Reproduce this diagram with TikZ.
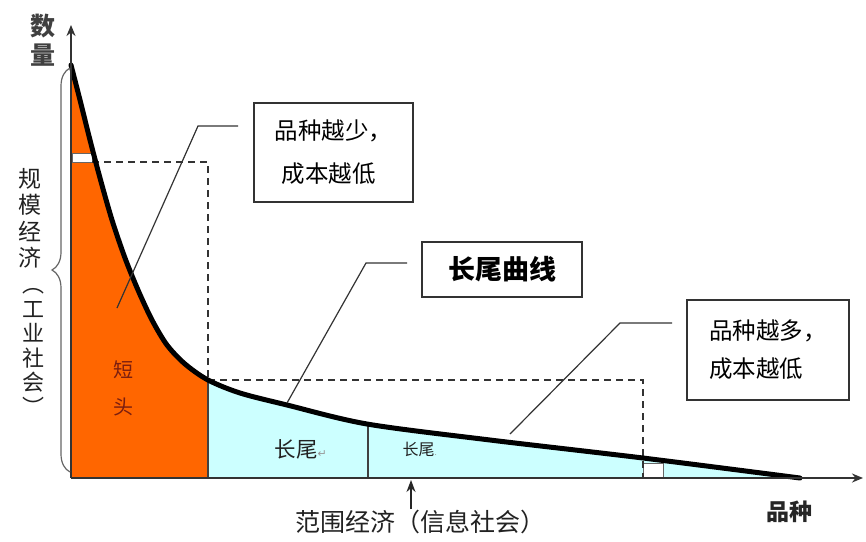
\documentclass[tikz,border=0pt]{standalone}
\usepackage{fontspec}
\setmainfont{Noto Sans CJK SC}
\newfontfamily\symfont{DejaVu Sans}
\usetikzlibrary{arrows.meta,decorations.pathreplacing}
\definecolor{headorange}{HTML}{FF6600}
\definecolor{tailblue}{HTML}{CCFFFF}
\definecolor{axisgray}{HTML}{333333}
\definecolor{headred}{HTML}{7A1E10}
\definecolor{textgray}{HTML}{222222}
\tikzset{
  axisline/.style={draw=axisgray, line width=2pt, -{Stealth[length=11pt,width=9pt]}},
  dashline/.style={draw=black!80, line width=1.5pt, dash pattern=on 7pt off 5pt},
  leader/.style={draw=black!80, line width=1.2pt},
  callout/.style={draw=black!80, line width=1.3pt, fill=white, inner sep=0pt},
  divider/.style={draw=black!75, line width=1.2pt},
  smallbox/.style={draw=black!60, line width=0.8pt, fill=white},
  bracestyle/.style={draw=black!60, line width=1.2pt, decorate, decoration={brace, amplitude=18pt}},
}
\begin{document}
\begin{tikzpicture}[x=1pt,y=-1pt]
\useasboundingbox (0,0) rectangle (866,541);
\fill[white] (0,0) rectangle (866,541);

% filled regions under the curve
\begin{scope}
\clip (72,478) -- plot[smooth,tension=0.5] coordinates {(71,65) (80,100) (90,140) (100,178) (112,220) (125,258) (138,290) (152,320) (167,345) (185,364) (208,380) (240,393) (287,405) (367,424) (490,440) (643,458) (800,478)} -- (800,478) -- cycle;
\fill[headorange] (60,40) rectangle (208,478);
\fill[tailblue] (208,40) rectangle (810,478);
\end{scope}

% dividers
\draw[divider] (208,380) -- (208,478);
\draw[divider] (368,424) -- (368,478);

% small white boxes
\draw[smallbox] (72,153) rectangle (92,162);
\draw[smallbox] (643,463) rectangle (663,478);

% dashed lines
\draw[dashline] (92,162) -- (208,162) -- (208,380);
\draw[dashline] (208,380) -- (643,380) -- (643,478);

% long tail curve
\draw[line width=5pt, black, line join=round, line cap=round] plot[smooth,tension=0.5] coordinates {(71,65) (80,100) (90,140) (100,178) (112,220) (125,258) (138,290) (152,320) (167,345) (185,364) (208,380) (240,393) (287,405) (367,424) (490,440) (643,458) (800,478)};

% axes
\coordinate (origin) at (71,478);
\coordinate (xend) at (863,478);
\coordinate (yend) at (71,25);
\draw[axisline] (origin) -- (xend);
\draw[axisline] (origin) -- (yend);

% brace
\coordinate (bracebot) at (70,472);
\coordinate (bracetop) at (70,68);
\draw[bracestyle] (bracebot) -- (bracetop);

% callout boxes
\node[callout, minimum width=159pt, minimum height=99pt, align=left,
      font=\fontsize{23.5}{43}\selectfont] (box1) at (333.5,152.5)
      {品种越少，\\\hspace*{7pt}成本越低};
\node[callout, minimum width=160pt, minimum height=55pt,
      font=\fontsize{27}{30}\selectfont\bfseries] (box2) at (502,269.5) {长尾曲线};
\node[callout, minimum width=162pt, minimum height=100pt, align=left,
      font=\fontsize{23.5}{38}\selectfont] (box3) at (768,350)
      {品种越多，\\成本越低};

% leaders
\coordinate (l1a) at (117,308);
\coordinate (l1b) at (198,126);
\coordinate (l1c) at (238,126);
\draw[leader] (l1a) -- (l1b) -- (l1c);
\coordinate (l2a) at (287,403);
\coordinate (l2b) at (366,263);
\coordinate (l2c) at (407,263);
\draw[leader] (l2a) -- (l2b) -- (l2c);
\coordinate (l3a) at (510,434);
\coordinate (l3b) at (620,323);
\coordinate (l3c) at (672,323);
\draw[leader] (l3a) -- (l3b) -- (l3c);

% axis labels
\node[font=\fontsize{25}{29}\selectfont\bfseries, text=black!75, align=center] (ylab) at (43,40) {数\\量};
\node[font=\fontsize{23}{28}\selectfont\bfseries, text=black!85] (xlab) at (789,512) {品种};

% left vertical labels
\node[font=\fontsize{23}{26.5}\selectfont, text=textgray, align=center] (scale1) at (30,218) {规\\模\\经\\济};
\node[font=\fontsize{22}{24.5}\selectfont, text=textgray, align=center] (scale2) at (33,352) {︵\\工\\业\\社\\会\\︶};

% bottom label and arrow
\node[font=\fontsize{25}{30}\selectfont, text=textgray] (scope) at (420,522) {范围经济（信息社会）};
\coordinate (arrowfoot) at (411,509);
\coordinate (arrowtip) at (411,480);
\draw[draw=black!85, line width=1.4pt, -{Stealth[length=12pt,width=9pt]}] (arrowfoot) -- (arrowtip);

% region labels
\node[font=\fontsize{20}{23}\selectfont, text=headred] (duan) at (123,370) {短};
\node[font=\fontsize{20}{23}\selectfont, text=headred] (tou) at (123,407) {头};
\node[font=\fontsize{21.5}{25}\selectfont, text=textgray, anchor=west] (tail1) at (271,449) {长尾{\symfont\fontsize{11}{11}\selectfont\color{black!40}↵}};
\node[font=\fontsize{16}{20}\selectfont, text=textgray, anchor=west] (tail2) at (399,449) {长尾{\fontsize{8}{8}\selectfont\color{black!40}.}};
\end{tikzpicture}
\end{document}
